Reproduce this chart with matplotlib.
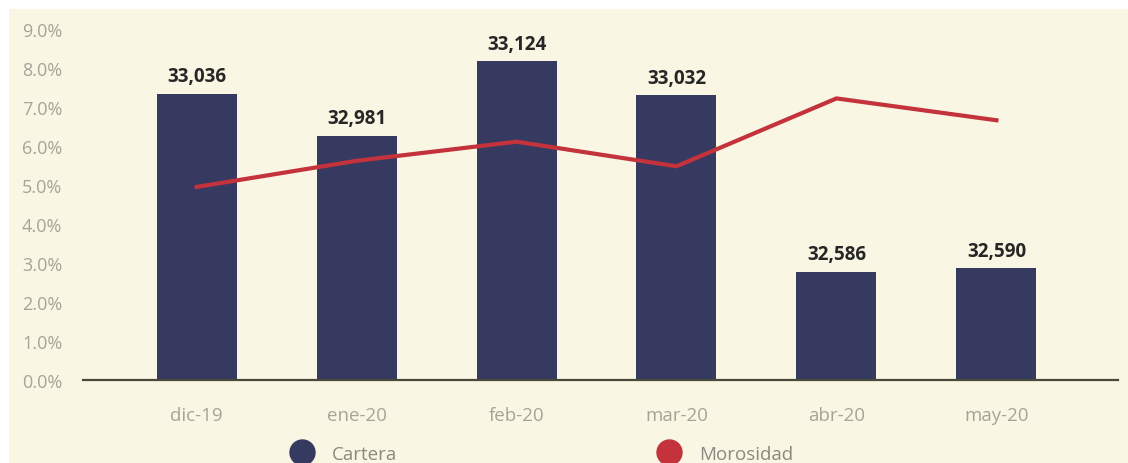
import matplotlib.pyplot as plt
from matplotlib.lines import Line2D
from matplotlib.patches import Rectangle

# data
months = ["dic-19", "ene-20", "feb-20", "mar-20", "abr-20", "may-20"]
cartera = [33036, 32981, 33124, 33032, 32586, 32590]
cartera_height = [7.34, 6.26, 8.17, 7.31, 2.78, 2.87]   # bar heights as drawn (% scale)
morosidad = [4.95, 5.62, 6.11, 5.48, 7.22, 6.66]
yticks = [0, 1, 2, 3, 4, 5, 6, 7, 8, 9]

bg = "#f9f7e3"
navy = "#363a60"
red = "#c4323c"
grey = "#a8a299"

plt.rcParams["font.family"] = ["Open Sans", "DejaVu Sans"]

fig = plt.figure(figsize=(11.28, 4.64), dpi=100)
fig.patch.set_facecolor("white")
fig.add_artist(Rectangle((9 / 1128, 0), 1, 1 - 10 / 464, transform=fig.transFigure,
                         facecolor=bg, edgecolor="none", zorder=-10))

ax = fig.add_axes([83 / 1128, 1 - 381 / 464, (1118 - 83) / 1128, (381 - 30) / 464])
ax.set_facecolor("none")

x = list(range(len(months)))
ax.bar(x, cartera_height, width=0.5, color=navy, zorder=2)
ax.plot(x, morosidad, color=red, lw=3, zorder=3, solid_joinstyle="miter")

for xi, h, v in zip(x, cartera_height, cartera):
    ax.annotate(f"{v:,}", (xi, h), xytext=(0, 12.5), textcoords="offset points",
                ha="center", va="center", fontsize=13.5, fontweight="bold", color="#262626")

ax.set_xlim(-0.71, 5.76)
ax.set_ylim(0, 9)
ax.set_yticks(yticks)
ax.set_yticklabels([f"{t:.1f}%" for t in yticks])
ax.set_xticks(x)
ax.set_xticklabels(months)
ax.tick_params(axis="y", length=0, pad=15, labelsize=13, labelcolor=grey)
ax.tick_params(axis="x", length=0, pad=19, labelsize=13.5, labelcolor=grey)

for s in ["top", "right", "left"]:
    ax.spines[s].set_visible(False)
ax.spines["bottom"].set_color("#4a4838")
ax.spines["bottom"].set_linewidth(1.6)

# legend at bottom, partly cut off like the reference
for cx, label, col in [(302, "Cartera", navy), (669, "Morosidad", red)]:
    fig.add_artist(Line2D([cx / 1128], [1 - 453 / 464], transform=fig.transFigure,
                          marker="o", markersize=18, color=col, linestyle="none"))
    fig.text((cx + 30) / 1128, 1 - 455 / 464, label, fontsize=13.5, color="#8d877f",
             ha="left", va="center")

fig.savefig("out.png", dpi=100, facecolor=fig.get_facecolor())
